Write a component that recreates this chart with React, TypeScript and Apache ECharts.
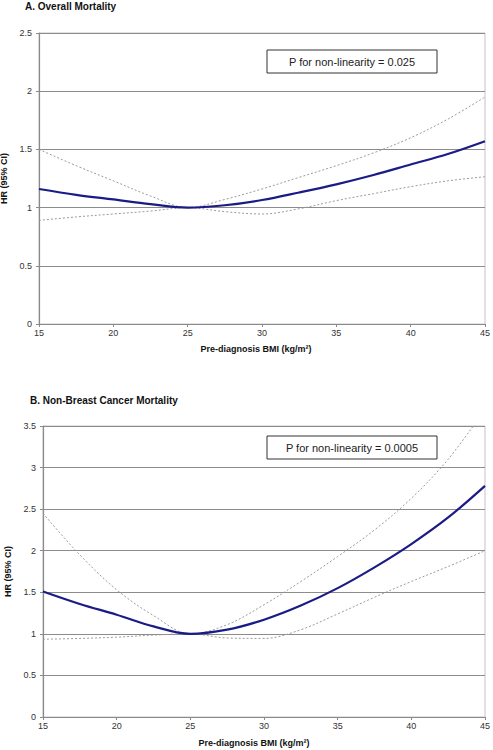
import React, { useEffect, useRef } from "react";
import * as echarts from "echarts";

const bmi = [15, 17.5, 20, 22.5, 25, 27.5, 30, 32.5, 35, 37.5, 40, 42.5, 45];

const hrA = [1.16, 1.11, 1.07, 1.03, 1.0, 1.02, 1.065, 1.13, 1.2, 1.28, 1.37, 1.46, 1.57];
const upperA = [1.5, 1.36, 1.23, 1.1, 1.0, 1.07, 1.16, 1.26, 1.36, 1.47, 1.6, 1.76, 1.95];
const lowerA = [0.89, 0.92, 0.945, 0.97, 1.0, 0.965, 0.945, 0.99, 1.06, 1.12, 1.18, 1.23, 1.265];

const hrB = [1.51, 1.36, 1.23, 1.09, 1.0, 1.05, 1.17, 1.34, 1.55, 1.8, 2.08, 2.4, 2.78];
const upperB = [2.45, 1.95, 1.53, 1.22, 1.0, 1.11, 1.35, 1.63, 1.93, 2.25, 2.63, 3.1, 3.7];
const lowerB = [0.935, 0.945, 0.96, 0.985, 1.0, 0.95, 0.945, 1.05, 1.24, 1.44, 1.63, 1.81, 2.0];

const titleA = "A. Overall Mortality";
const titleB = "B. Non-Breast Cancer Mortality";
const pA = "P for non-linearity = 0.025";
const pB = "P for non-linearity = 0.0005";
const xName = "Pre-diagnosis BMI (kg/m\u00B2)";
const yName = "HR (95% CI)";

const FONT = "'Liberation Sans', Arial, sans-serif";

export default function App() {
  const ref = useRef<HTMLDivElement>(null);
  useEffect(() => {
    document.body.style.margin = "0";
    const chart = echarts.init(ref.current!, null, { renderer: "svg" });
    const pair = (ys: number[]) => bmi.map((x, i) => [x, ys[i]]);
    const mainStyle = { color: "#1b1b86", width: 2.2 };
    const ciStyle = { color: "#9a9a9a", width: 1, type: [2, 2] as any };
    const xAxis = (gi: number) => ({
      type: "value",
      gridIndex: gi,
      min: 15,
      max: 45,
      interval: 5,
      axisLine: { show: true, lineStyle: { color: "#8a8a8a", width: 1.2 } },
      axisTick: { show: true, length: 3, lineStyle: { color: "#8a8a8a" } },
      axisLabel: {
        fontSize: 9,
        color: "#333",
        fontFamily: FONT,
        margin: 4,
        hideOverlap: false,
      },
      splitLine: { show: false },
    });
    const yAxis = (gi: number, max: number, nameGap: number) => ({
      type: "value",
      gridIndex: gi,
      min: 0,
      max,
      interval: 0.5,
      name: yName,
      nameLocation: "middle",
      nameGap,
      nameTextStyle: { fontSize: 9, fontWeight: "bold", color: "#111", fontFamily: FONT },
      axisLine: { show: true, lineStyle: { color: "#8a8a8a", width: 1.2 } },
      axisTick: { show: true, length: 3, lineStyle: { color: "#8a8a8a" } },
      axisLabel: { fontSize: 9, color: "#333", fontFamily: FONT, margin: 7 },
      splitLine: { show: true, lineStyle: { color: "#8c8c8c", width: 1 } },
    });
    const line = (name: string, gi: number, ys: number[], style: any, z: number) => ({
      name,
      type: "line",
      xAxisIndex: gi,
      yAxisIndex: gi,
      data: pair(ys),
      smooth: 0.35,
      showSymbol: false,
      symbol: "none",
      lineStyle: style,
      clip: true,
      z,
    });
    const box = (y: number, text: string) => ({
      type: "group",
      children: [
        {
          type: "rect",
          shape: { x: 267, y, width: 170, height: 23 },
          style: { fill: "#fff", stroke: "#333", lineWidth: 1 },
          z: 10,
        },
        {
          type: "text",
          x: 352,
          y: y + 11.5,
          style: {
            text,
            fontSize: 11,
            fontFamily: FONT,
            fill: "#222",
            align: "center",
            verticalAlign: "middle",
          },
          z: 11,
        },
      ],
    });
    const gridBase = {
      right: 8,
      height: 291,
      show: true,
      borderColor: "#c4c4c4",
      borderWidth: 1,
      containLabel: false,
      outerBoundsMode: "none",
    };
    chart.setOption({
      animation: false,
      backgroundColor: "#fff",
      grid: [
        { ...gridBase, left: 39, top: 33 },
        { ...gridBase, left: 43, top: 426 },
      ],
      xAxis: [xAxis(0), xAxis(1)],
      yAxis: [yAxis(0, 2.5, 24), yAxis(1, 3.5, 26)],
      series: [
        line("Upper A", 0, upperA, ciStyle, 2),
        line("Lower A", 0, lowerA, ciStyle, 2),
        line("HR A", 0, hrA, mainStyle, 3),
        line("Upper B", 1, upperB, ciStyle, 2),
        line("Lower B", 1, lowerB, ciStyle, 2),
        line("HR B", 1, hrB, mainStyle, 3),
      ],
      graphic: [
        {
          type: "text",
          x: 25,
          y: 1,
          style: { text: titleA, fontSize: 10, fontWeight: "bold", fontFamily: FONT, fill: "#111" },
        },
        {
          type: "text",
          x: 30,
          y: 395,
          style: { text: titleB, fontSize: 10, fontWeight: "bold", fontFamily: FONT, fill: "#111" },
        },
        {
          type: "text",
          x: 256,
          y: 344,
          style: { text: xName, fontSize: 9, fontWeight: "bold", fontFamily: FONT, fill: "#111", align: "center" },
        },
        {
          type: "text",
          x: 254,
          y: 738,
          style: { text: xName, fontSize: 9, fontWeight: "bold", fontFamily: FONT, fill: "#111", align: "center" },
        },
        box(50, pA),
        box(436, pB),
      ],
    });
    return () => chart.dispose();
  }, []);
  return <div ref={ref} style={{ width: 493, height: 750 }} />;
}
